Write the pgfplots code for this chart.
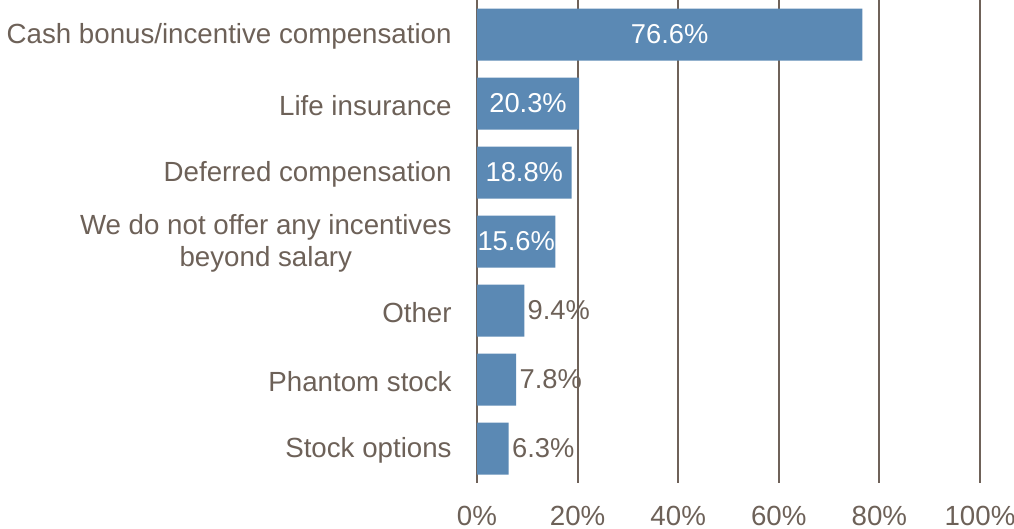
\documentclass[border=0pt]{standalone}
\usepackage{fontspec}
\setmainfont{Liberation Sans}
\usepackage{pgfplots}
\usepackage{pgfplotstable}
\pgfplotsset{compat=1.18}
\definecolor{barblue}{HTML}{5B89B4}
\definecolor{txtbrown}{HTML}{6D6158}
\definecolor{gridbrown}{HTML}{6F6259}

% incentives offered, share of respondents (%)
\pgfplotstableread{
y v
0 76.6
1 20.3
2 18.8
3 15.6
4 9.4
5 7.8
6 6.3
}\incdata

\begin{document}
\begin{tikzpicture}
\begin{axis}[
  scale only axis,
  width=251.5bp, height=241.5bp,
  xmin=0, xmax=100,
  ymin=-0.5, ymax=6.5,
  y dir=reverse,
  xtick={0,20,40,60,80,100},
  xticklabel={\pgfmathprintnumber{\tick}\%},
  ytick={0,1,2,3,4,5,6},
  yticklabels={Cash bonus/incentive compensation, Life insurance, Deferred compensation,
    {We do not offer any incentives\\beyond salary}, Other, Phantom stock, Stock options},
  /pgf/number format/assume math mode=true,
  axis line style={draw=none},
  major tick length=0pt,
  xmajorgrids,
  major grid style={gridbrown, line width=1bp},
  tick label style={txtbrown, font=\fontsize{13.9}{16}\selectfont, inner sep=0pt},
  yticklabel style={anchor=east, align=center, xshift=-12.5bp, yshift=-1bp},
  xticklabel style={anchor=center, yshift=-16.5bp},
  clip=false,
]
\addplot[xbar, fill=barblue, draw=none, bar width=26bp] table[x=v, y=y] {\incdata};

% labels inside the long bars
\addplot[only marks, mark=none,
  skip coords between index={4}{7},
  point meta=\thisrow{v},
  nodes near coords={\pgfmathprintnumber[fixed, fixed zerofill, precision=1]{\pgfplotspointmeta}\%},
  nodes near coords style={white, anchor=center, font=\fontsize{13.7}{16}\selectfont}]
  table[x expr=\thisrow{v}/2, y=y] {\incdata};

% labels beside the short bars
\addplot[only marks, mark=none,
  skip coords between index={0}{4},
  point meta=\thisrow{v},
  nodes near coords={\pgfmathprintnumber[fixed, fixed zerofill, precision=1]{\pgfplotspointmeta}\%},
  nodes near coords style={txtbrown, anchor=west, inner sep=1.5bp, font=\fontsize{13.7}{16}\selectfont}]
  table[x=v, y=y] {\incdata};
\end{axis}
\pgfresetboundingbox
\useasboundingbox (-238.5bp,-23bp) rectangle (268.5bp,241.5bp);
\end{tikzpicture}
\end{document}
